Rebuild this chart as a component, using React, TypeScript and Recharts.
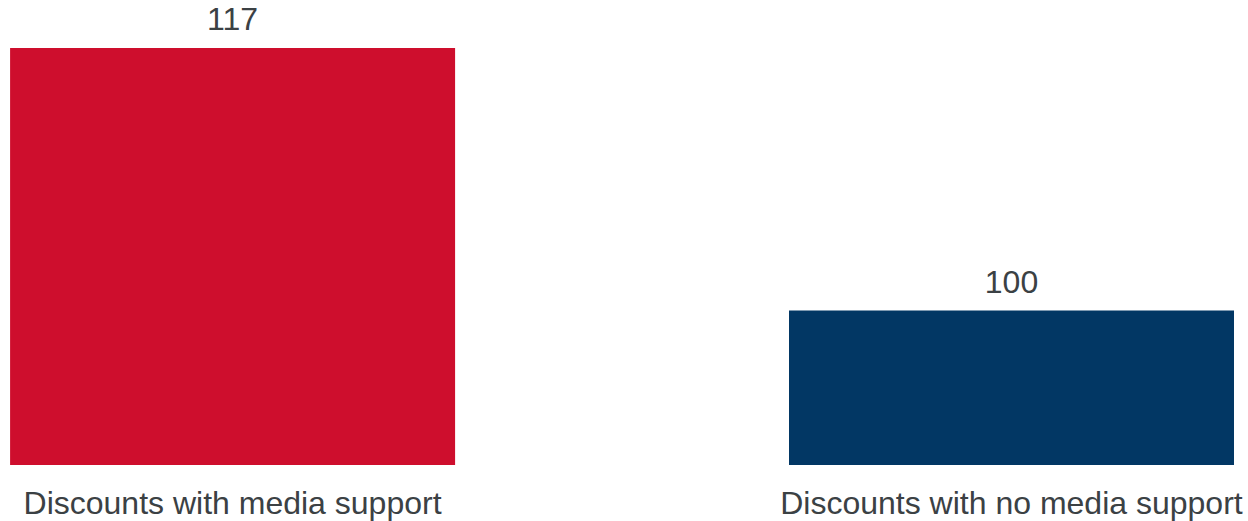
import React from 'react';
import { BarChart, Bar, XAxis, YAxis, Cell, LabelList } from 'recharts';

const categories = ['Discounts with media support', 'Discounts with no media support'];
const values = [117, 100];
const positions = [0, 1];

const BAR_COLORS = ['#CE0E2D', '#023764'];
const TEXT_COLOR = '#3b4144';
const FONT = '"Liberation Sans", Arial, Helvetica, sans-serif';

const chartData = categories.map((name, i) => ({
  name,
  pos: positions[i],
  value: values[i],
}));

const App: React.FC = () => {
  return (
    <div style={{ position: 'absolute', left: 0, top: 0, fontFamily: FONT }}>
      <BarChart
        width={1248}
        height={521}
        data={chartData}
        margin={{ top: 48, right: 14, bottom: 0, left: 10 }}
      >
        <XAxis
          dataKey="pos"
          type="number"
          domain={[-2 / 7, 9 / 7]}
          ticks={positions}
          tickFormatter={(i: number) => categories[i] ?? ''}
          axisLine={false}
          tickLine={false}
          tickSize={0}
          tickMargin={26}
          height={56}
          interval={0}
          tick={{ fill: TEXT_COLOR, fontSize: 32, fontFamily: FONT }}
        />
        <YAxis type="number" domain={[90, 117]} hide />
        <Bar dataKey="value" barSize={445} isAnimationActive={false}>
          {chartData.map((d, i) => (
            <Cell key={d.name} fill={BAR_COLORS[i % BAR_COLORS.length]} />
          ))}
          <LabelList
            dataKey="value"
            position="top"
            offset={18}
            fill={TEXT_COLOR}
            fontSize={32}
            fontFamily={FONT}
          />
        </Bar>
      </BarChart>
    </div>
  );
};

export default App;
